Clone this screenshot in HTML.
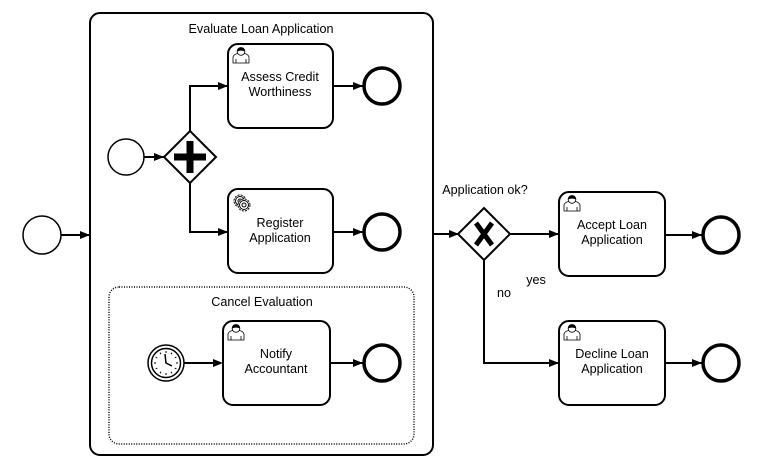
<!DOCTYPE html>
<html><head><meta charset="utf-8"><style>
html,body{margin:0;padding:0;background:#fff;}
svg{display:block;font-family:"Liberation Sans",Arial,sans-serif;font-size:12.6px;}
</style></head><body>
<svg width="758" height="464" viewBox="0 0 758 464" xmlns="http://www.w3.org/2000/svg">
<defs>
<marker id="a" markerWidth="10" markerHeight="8" refX="10" refY="4" orient="auto" markerUnits="userSpaceOnUse">
<path d="M0,0 L10,4 L0,8 Z" fill="#000"/></marker>
<g id="user" fill="none" stroke="#000" stroke-width="0.8">
<path d="M1,16 L1,10 Q2,7 6,6.5 L12,6.5 Q16,7 17,10 L17,16 Z" fill="#fff"/>
<circle cx="9" cy="4.5" r="3.8" fill="#fff"/>
<path d="M5.3,4 Q6,0.5 9,0.7 Q12,0.5 12.7,4 Q9,2.5 5.3,4Z" fill="#000"/>
<path d="M4,16 L4,12 M14,16 L14,12"/>
</g>
</defs>
<g fill="none" stroke="#000">
<rect x="90" y="13" width="343" height="442" rx="10" stroke-width="2"/>
<rect x="109" y="287" width="305" height="157" rx="10" stroke-width="1.5" stroke-dasharray="1,1.5"/>
<circle cx="42" cy="235" r="19" stroke-width="1.5"/>
<line x1="61" y1="235" x2="90" y2="235" stroke-width="2" marker-end="url(#a)"/>
<circle cx="126" cy="157" r="18" stroke-width="1.5"/>
<line x1="144" y1="157" x2="164" y2="157" stroke-width="2" marker-end="url(#a)"/>
<path d="M190,131 L216,157 L190,183 L164,157 Z" stroke-width="2" fill="#fff"/>
<path d="M174,157 H206 M190,141 V173" stroke-width="7"/>
<polyline points="190,131 190,86 228,86" stroke-width="2" marker-end="url(#a)"/>
<polyline points="190,183 190,232 228,232" stroke-width="2" marker-end="url(#a)"/>
<rect x="228" y="44" width="105" height="84" rx="10" stroke-width="2"/>
<rect x="228" y="189" width="105" height="84" rx="10" stroke-width="2"/>
<rect x="223" y="321" width="107" height="84" rx="10" stroke-width="2"/>
<rect x="559" y="192" width="106" height="84" rx="10" stroke-width="2"/>
<rect x="559" y="321" width="106" height="84" rx="10" stroke-width="2"/>
<line x1="333" y1="86" x2="363" y2="86" stroke-width="2" marker-end="url(#a)"/>
<line x1="333" y1="232" x2="363" y2="232" stroke-width="2" marker-end="url(#a)"/>
<line x1="330" y1="363" x2="363" y2="363" stroke-width="2" marker-end="url(#a)"/>
<line x1="665" y1="235" x2="702" y2="235" stroke-width="2" marker-end="url(#a)"/>
<line x1="665" y1="363" x2="702" y2="363" stroke-width="2" marker-end="url(#a)"/>
<circle cx="382" cy="86" r="18" stroke-width="3.5"/>
<circle cx="382" cy="232" r="18" stroke-width="3.5"/>
<circle cx="382" cy="363" r="18" stroke-width="3.5"/>
<circle cx="721" cy="235" r="18" stroke-width="3.5"/>
<circle cx="721" cy="363" r="18" stroke-width="3.5"/>
<circle cx="166" cy="363" r="18" stroke-width="1.5"/>
<circle cx="166" cy="363" r="14.5" stroke-width="1.5"/>
<g stroke-width="1">
<line x1="166" y1="351" x2="166" y2="353"/><line x1="166" y1="373" x2="166" y2="375"/>
<line x1="154" y1="363" x2="156" y2="363"/><line x1="176" y1="363" x2="178" y2="363"/>
<line x1="172" y1="352.6" x2="171" y2="354.3"/><line x1="176.4" y1="357" x2="174.7" y2="358"/>
<line x1="160" y1="352.6" x2="161" y2="354.3"/><line x1="155.6" y1="357" x2="157.3" y2="358"/>
<line x1="172" y1="373.4" x2="171" y2="371.7"/><line x1="160" y1="373.4" x2="161" y2="371.7"/>
<line x1="155.6" y1="369" x2="157.3" y2="368"/><line x1="176.4" y1="369" x2="174.7" y2="368"/>
</g>
<polyline points="165,354 166,363 172,366" stroke-width="1.5"/>
<path d="M184,363 H213" stroke-width="2"/>
<path d="M213,359 L223,363 L213,367 Z" fill="#000" stroke="none"/>
<line x1="433" y1="234" x2="459" y2="234" stroke-width="2" marker-end="url(#a)"/>
<path d="M484,208 L510,234 L484,260 L458,234 Z" stroke-width="2" fill="#fff"/>
<path d="M476,223 L492,245 M492,223 L476,245" stroke-width="5"/>
<line x1="510" y1="234" x2="559" y2="234" stroke-width="2" marker-end="url(#a)"/>
<polyline points="484,260 484,363 559,363" stroke-width="2" marker-end="url(#a)"/>
<g transform="translate(240,201)" stroke-width="1">
<circle cx="0" cy="0" r="6" stroke-dasharray="2,1.2"/>
<circle cx="0" cy="0" r="4.5"/>
<circle cx="0" cy="0" r="2"/>
<circle cx="4" cy="4" r="6" fill="#fff" stroke-dasharray="2,1.2"/>
<circle cx="4" cy="4" r="4.5" fill="#fff"/>
<circle cx="4" cy="4" r="2"/>
</g>
</g>
<use href="#user" x="232" y="47"/>
<use href="#user" x="227" y="324"/>
<use href="#user" x="563" y="195"/>
<use href="#user" x="563" y="324"/>
<g fill="#000" text-anchor="middle">
<text x="261" y="33">Evaluate Loan Application</text>
<text x="262" y="306">Cancel Evaluation</text>
<text x="280" y="81">Assess Credit</text>
<text x="280" y="96">Worthiness</text>
<text x="280" y="227">Register</text>
<text x="280" y="242">Application</text>
<text x="276" y="358">Notify</text>
<text x="276" y="373">Accountant</text>
<text x="612" y="229">Accept Loan</text>
<text x="612" y="244">Application</text>
<text x="612" y="358">Decline Loan</text>
<text x="612" y="373">Application</text>
<text x="485" y="194">Application ok?</text>
<text x="536" y="284">yes</text>
<text x="504" y="297">no</text>
</g>
</svg>
</body></html>
